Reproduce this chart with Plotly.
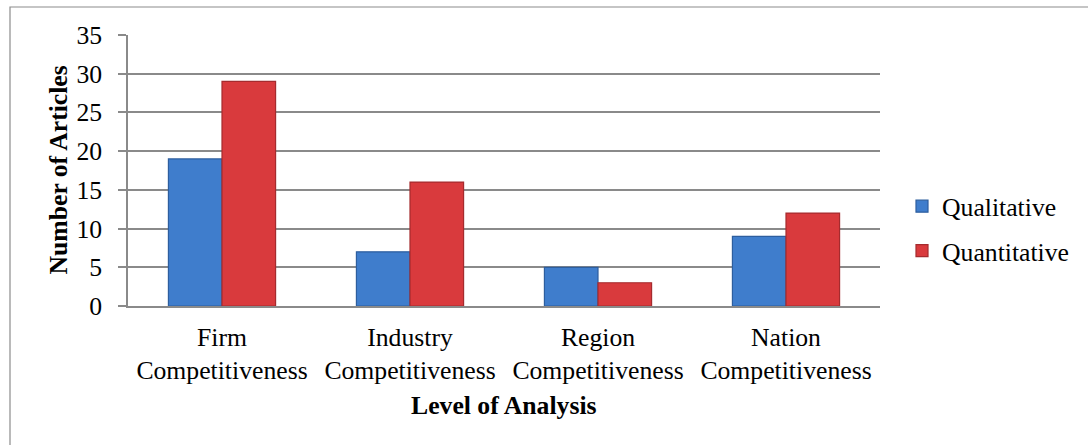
import plotly.graph_objects as go

categories = ["Firm<br>Competitiveness", "Industry<br>Competitiveness",
              "Region<br>Competitiveness", "Nation<br>Competitiveness"]
qualitative = [19, 7, 5, 9]
quantitative = [29, 16, 3, 12]
y_ticks = [0, 5, 10, 15, 20, 25, 30, 35]

FONT = "Liberation Serif, Times New Roman, serif"
FS = 25.7
W, H = 1088, 445
L, R, T, B = 128, 208, 35, 139
pw, ph = W - L - R, H - T - B

def px_x(x):
    return (x - L) / pw

def px_y(y):
    return (H - B - y) / ph

fig = go.Figure()
fig.add_trace(go.Bar(
    x=categories, y=qualitative, name="Qualitative", legendgroup="a",
    marker=dict(color="#3f7dcc", line=dict(color="#2d5e9e", width=1.2)),
))
fig.add_trace(go.Bar(
    x=categories, y=quantitative, name="Quantitative", legendgroup="b",
    marker=dict(color="#d93a3d", line=dict(color="#a52b2e", width=1.2)),
))

fig.update_layout(
    width=W, height=H,
    margin=dict(l=L, r=R, t=T, b=B, autoexpand=False),
    paper_bgcolor="white", plot_bgcolor="white",
    font=dict(family=FONT, size=FS, color="black"),
    barmode="group", bargap=0.43, bargroupgap=0,
    showlegend=True,
    legend=dict(x=px_x(902), y=px_y(183), xanchor="left", yanchor="top",
                font=dict(family=FONT, size=FS, color="black"),
                tracegroupgap=8, itemwidth=30, bgcolor="rgba(0,0,0,0)"),
    xaxis=dict(showgrid=False, showline=True, linecolor="#8a8a8a", linewidth=1.5,
               ticks="", tickfont=dict(size=FS), ticklabelstandoff=7,
               fixedrange=True),
    yaxis=dict(range=[0, 35], tickvals=y_ticks, showgrid=True,
               gridcolor="#8a8a8a", gridwidth=1.5, showline=True,
               linecolor="#8a8a8a", linewidth=1.5, ticks="outside",
               ticklen=8, tickcolor="#8a8a8a", tickwidth=1.5,
               tickfont=dict(size=FS), ticklabelstandoff=11,
               zeroline=False, fixedrange=True),
    shapes=[dict(type="rect", xref="paper", yref="paper",
                 x0=px_x(10), x1=px_x(1100), y0=px_y(470), y1=px_y(7),
                 line=dict(color="#8c8c8c", width=1.2), fillcolor="rgba(0,0,0,0)",
                 layer="below")],
    annotations=[
        dict(text="<b>Number of Articles</b>", xref="paper", yref="paper",
             x=px_x(58), y=0.5, textangle=-90, showarrow=False,
             xanchor="center", yanchor="middle", font=dict(size=FS)),
        dict(text="<b>Level of Analysis</b>", xref="paper", yref="paper",
             x=0.5, y=px_y(405), showarrow=False,
             xanchor="center", yanchor="middle", font=dict(size=FS)),
    ],
)

fig.write_html("out.html")
